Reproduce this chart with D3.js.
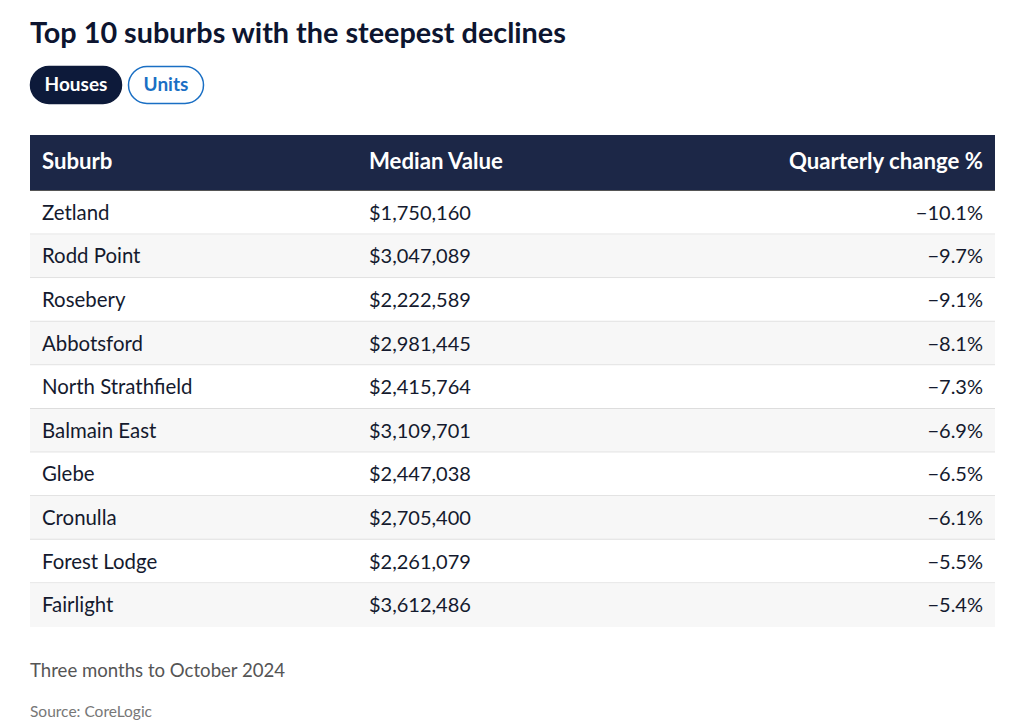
<!DOCTYPE html>
<html>
<head>
<meta charset="utf-8">
<script src="https://cdn.jsdelivr.net/npm/d3@7"></script>
<style>
  html, body { margin: 0; padding: 0; background: #ffffff; }
  svg { display: block; }
</style>
</head>
<body>
<svg id="chart" width="1024" height="726"></svg>
<script>
const title = "Top 10 suburbs with the steepest declines";
const tabs = ["Houses", "Units"];
const columns = ["Suburb", "Median Value", "Quarterly change %"];
const suburbs = ["Zetland", "Rodd Point", "Rosebery", "Abbotsford", "North Strathfield", "Balmain East", "Glebe", "Cronulla", "Forest Lodge", "Fairlight"];
const medianValues = [1750160, 3047089, 2222589, 2981445, 2415764, 3109701, 2447038, 2705400, 2261079, 3612486];
const quarterlyChange = [-10.1, -9.7, -9.1, -8.1, -7.3, -6.9, -6.5, -6.1, -5.5, -5.4];
const note = "Three months to October 2024";
const source = "Source: CoreLogic";

const FONT = "Lato, 'Noto Sans', sans-serif";
const svg = d3.select("#chart");

// Title
svg.append("text").attr("x", 30).attr("y", 43)
  .attr("font-family", FONT).attr("font-weight", 700).attr("font-size", 28.8)
  .attr("fill", "#0d1530").text(title);

// Tabs
const tabX = d3.scaleOrdinal().domain(tabs).range([30, 128]);
const tabW = d3.scaleOrdinal().domain(tabs).range([92, 76]);
const tg = svg.selectAll("g.tab").data(tabs).join("g").attr("class", "tab")
  .attr("transform", d => `translate(${tabX(d)},66)`);
tg.append("rect").attr("x", 0.5).attr("y", 0.5)
  .attr("width", d => tabW(d) - 1).attr("height", 37).attr("rx", 18.5)
  .attr("fill", (d, i) => i === 0 ? "#0d1a3a" : "#ffffff")
  .attr("stroke", (d, i) => i === 0 ? "#0d1a3a" : "#1a6fc4").attr("stroke-width", 1.5);
tg.append("text").attr("x", d => tabW(d) / 2).attr("y", 25)
  .attr("text-anchor", "middle").attr("font-family", FONT).attr("font-weight", 700)
  .attr("font-size", 19).attr("fill", (d, i) => i === 0 ? "#ffffff" : "#1a6fc4").text(d => d);

// Table
const left = 30, right = 995;
const headerTop = 135, headerH = 55;
const y = d3.scaleBand().domain(d3.range(suburbs.length)).range([191, 627]).paddingInner(0);

svg.append("rect").attr("x", left).attr("y", headerTop).attr("width", right - left)
  .attr("height", headerH).attr("fill", "#1c2747");
svg.append("line").attr("x1", left).attr("x2", right).attr("y1", headerTop + headerH + 0.5)
  .attr("y2", headerTop + headerH + 0.5).attr("stroke", "#555").attr("stroke-width", 1);

const colX = [42, 369, 983];
const colAnchor = ["start", "start", "end"];
svg.selectAll("text.hdr").data(columns).join("text").attr("class", "hdr")
  .attr("x", (d, i) => colX[i]).attr("y", headerTop + 34)
  .attr("text-anchor", (d, i) => colAnchor[i])
  .attr("font-family", FONT).attr("font-weight", 700).attr("font-size", 22.2)
  .attr("fill", "#ffffff").text(d => d);

const fmtMoney = d3.format("$,");
const fmtPct = v => d3.format(".1f")(v).replace("-", "\u2212") + "%";

const rows = svg.selectAll("g.row").data(suburbs).join("g").attr("class", "row")
  .attr("transform", (d, i) => `translate(0,${y(i)})`);
rows.append("rect").attr("x", left).attr("y", 0).attr("width", right - left)
  .attr("height", y.bandwidth()).attr("fill", (d, i) => i % 2 === 1 ? "#f7f7f7" : "#ffffff");
rows.filter((d, i) => i < suburbs.length - 1).append("line")
  .attr("x1", left).attr("x2", right).attr("y1", y.bandwidth() - 0.5).attr("y2", y.bandwidth() - 0.5)
  .attr("stroke", "#dddddd").attr("stroke-width", 1);

const cellY = y.bandwidth() / 2 + 7;
rows.append("text").attr("x", colX[0]).attr("y", cellY)
  .attr("font-family", FONT).attr("font-size", 20.4).attr("fill", "#141a2e").text(d => d);
rows.append("text").attr("x", colX[1]).attr("y", cellY)
  .attr("font-family", FONT).attr("font-size", 20).attr("fill", "#141a2e")
  .text((d, i) => fmtMoney(medianValues[i]));
rows.append("text").attr("x", colX[2]).attr("y", cellY).attr("text-anchor", "end")
  .attr("font-family", FONT).attr("font-size", 20).attr("fill", "#141a2e")
  .text((d, i) => fmtPct(quarterlyChange[i]));

// Footer
svg.append("text").attr("x", 30).attr("y", 677).attr("font-family", FONT)
  .attr("font-size", 18.6).attr("fill", "#555555").text(note);
svg.append("text").attr("x", 30).attr("y", 717).attr("font-family", FONT)
  .attr("font-size", 15.5).attr("fill", "#777777").text(source);
</script>
</body>
</html>
